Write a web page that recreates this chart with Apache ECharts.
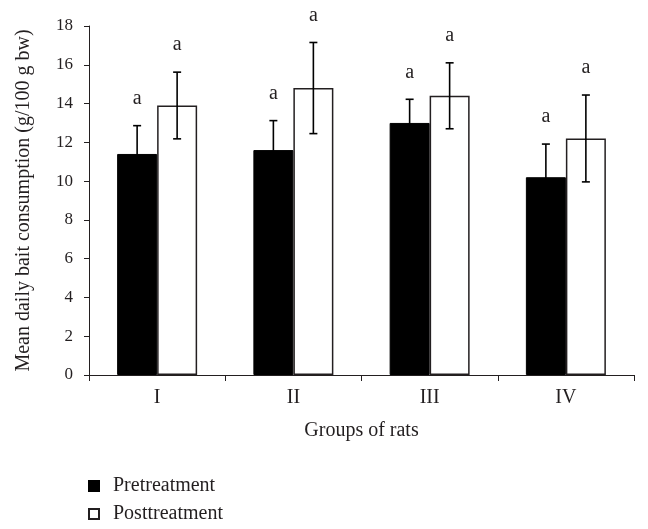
<!DOCTYPE html>
<html>
<head>
<meta charset="utf-8">
<script src="https://cdn.jsdelivr.net/npm/echarts@6/dist/echarts.min.js"></script>
<style>
html,body{margin:0;padding:0;background:#fff;}
#main{width:648px;height:529px;}
</style>
</head>
<body>
<div id="main"></div>
<script>
const categories = ['I', 'II', 'III', 'IV'];
const seriesNames = ['Pretreatment', 'Posttreatment'];
const preMean = [11.4, 11.6, 13.0, 10.2];
const preSD = [1.46, 1.52, 1.22, 1.71];
const postMean = [13.9, 14.8, 14.4, 12.2];
const postSD = [1.72, 2.35, 1.7, 2.24];
const preLetters = ['a', 'a', 'a', 'a'];
const postLetters = ['a', 'a', 'a', 'a'];
const yMin = 0, yMax = 18, yInterval = 2;

const FONT = '"Liberation Serif", "Times New Roman", serif';
const INK = '#231f20';
const BAR_W = 40;

const errData = [];
categories.forEach((c, i) => {
  errData.push([i, preMean[i], preSD[i], 0, preLetters[i]]);
  errData.push([i, postMean[i], postSD[i], 1, postLetters[i]]);
});

function legendFor(name, top) {
  return {
    orient: 'vertical',
    left: 83,
    top: top,
    icon: 'rect',
    itemWidth: 10,
    itemHeight: 10,
    data: [name],
    selectedMode: false,
    textStyle: {fontFamily: FONT, fontSize: 20, color: INK, lineHeight: 20, padding: [0, 0, 0, 9]}
  };
}

const chart = echarts.init(document.getElementById('main'), null, {renderer: 'canvas'});
chart.setOption({
  animation: false,
  backgroundColor: '#ffffff',
  textStyle: {fontFamily: FONT, color: INK},
  grid: {left: 89, right: 14, top: 26, bottom: 154},
  legend: [legendFor(seriesNames[0], 471), legendFor(seriesNames[1], 499)],
  xAxis: {
    type: 'category',
    data: categories,
    name: 'Groups of rats',
    nameLocation: 'middle',
    nameGap: 46,
    nameTextStyle: {fontFamily: FONT, fontSize: 20, color: INK},
    axisLine: {lineStyle: {color: INK, width: 1}},
    axisTick: {show: true, inside: false, length: 6, alignWithLabel: false, lineStyle: {color: INK}},
    axisLabel: {fontFamily: FONT, fontSize: 20, color: INK, margin: 13},
    splitLine: {show: false}
  },
  yAxis: {
    type: 'value',
    min: yMin,
    max: yMax,
    interval: yInterval,
    name: 'Mean daily bait consumption (g/100 g bw)',
    nameLocation: 'middle',
    nameGap: 55,
    nameRotate: 90,
    nameTextStyle: {fontFamily: FONT, fontSize: 20, color: INK},
    axisLine: {show: true, lineStyle: {color: INK, width: 1}},
    axisTick: {show: true, inside: false, length: 5, lineStyle: {color: INK}},
    axisLabel: {fontFamily: FONT, fontSize: 17, color: INK, margin: 16},
    splitLine: {show: false}
  },
  series: [
    {
      name: seriesNames[0],
      type: 'bar',
      data: preMean,
      barWidth: BAR_W,
      barGap: '0%',
      itemStyle: {color: '#000000', borderColor: '#000000', borderWidth: 1}
    },
    {
      name: seriesNames[1],
      type: 'bar',
      data: postMean,
      barWidth: BAR_W,
      barGap: '0%',
      itemStyle: {color: '#ffffff', borderColor: INK, borderWidth: 1.5}
    },
    {
      type: 'custom',
      data: errData,
      z: 10,
      silent: true,
      renderItem: function (params, api) {
        const cat = api.value(0);
        const mean = api.value(1);
        const sd = api.value(2);
        const s = api.value(3);
        const letter = errData[params.dataIndex][4];
        const base = api.coord([cat, mean]);
        const dx = (s === 0 ? -1 : 1) * BAR_W / 2;
        const x = base[0] + dx;
        const top = api.coord([cat, mean + sd])[1];
        const bot = api.coord([cat, mean - sd])[1];
        const cap = 4;
        const col = '#000000';
        const ls = {stroke: col, lineWidth: 1.6};
        return {
          type: 'group',
          children: [
            {type: 'line', shape: {x1: x, y1: top, x2: x, y2: bot}, style: ls},
            {type: 'line', shape: {x1: x - cap, y1: top, x2: x + cap, y2: top}, style: ls},
            {type: 'line', shape: {x1: x - cap, y1: bot, x2: x + cap, y2: bot}, style: ls},
            {type: 'text', style: {text: letter, x: x, y: top - 17, textAlign: 'center', textVerticalAlign: 'bottom', font: '20px ' + FONT, fill: INK}}
          ]
        };
      }
    }
  ]
});
</script>
</body>
</html>
